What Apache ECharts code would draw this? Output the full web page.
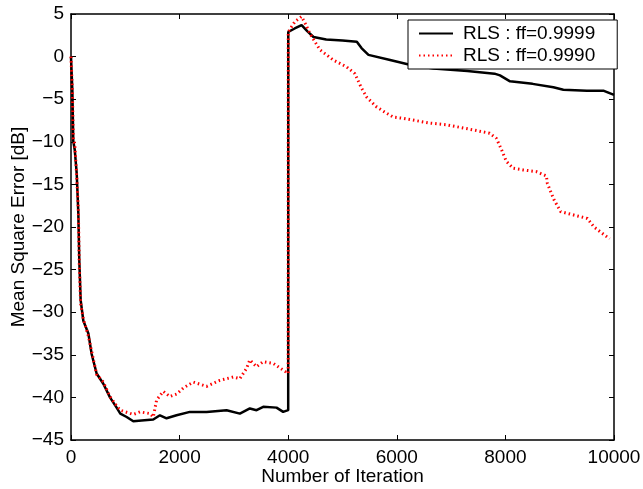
<!DOCTYPE html>
<html>
<head>
<meta charset="utf-8">
<script src="https://cdn.jsdelivr.net/npm/echarts@6/dist/echarts.min.js"></script>
<style>html,body{margin:0;padding:0;background:#fff}#c{width:643px;height:489px}</style>
</head>
<body>
<div id="c"></div>
<script>
var xTicks = [0, 2000, 4000, 6000, 8000, 10000];
var yTicks = [-45, -40, -35, -30, -25, -20, -15, -10, -5, 0, 5];
var seriesNames = ['RLS : ff=0.9999', 'RLS : ff=0.9990'];

var iterA = [0,13,25,42,70,105,135,153,178,227,320,380,472,595,718,840,908,1025,1147,1300,1515,1638,1760,1944,2190,2497,2865,3110,3294,3417,3540,3785,3907,4000,4001,4120,4247,4350,4466,4700,5000,5264,5350,5478,5877,6200,6673,7300,7800,7900,8085,8500,8883,9067,9500,9803,10000];
var mseA = [0,0,-4,-9.9,-11,-13.7,-18.4,-24,-28.6,-31,-32.5,-34.9,-37.2,-38.4,-40.0,-41.2,-41.9,-42.3,-42.8,-42.7,-42.6,-42.1,-42.45,-42.1,-41.7,-41.7,-41.5,-41.9,-41.3,-41.5,-41.1,-41.2,-41.7,-41.5,2.9,3.3,3.7,3.0,2.3,2.0,1.9,1.75,1.0,0.2,-0.4,-0.9,-1.4,-1.7,-2.0,-2.2,-2.9,-3.2,-3.6,-3.9,-4.0,-4.0,-4.5];

var iterB = [0,13,25,42,70,105,135,153,178,227,320,380,472,595,718,840,908,1000,1147,1270,1454,1515,1577,1700,1822,1950,2068,2252,2497,2742,2987,3110,3233,3294,3417,3540,3724,3907,4000,4001,4124,4247,4320,4400,4584,4830,5075,5228,5350,5450,5627,5800,5933,6117,6607,6915,7404,7711,7834,7920,8018,8140,8324,8569,8754,8773,8895,9018,9325,9509,9632,9919];
var mseB = [0,0,-4,-9.6,-10.3,-14,-18,-24.5,-29,-30.8,-32.8,-34.6,-37.3,-38.2,-39.9,-41.0,-41.5,-41.7,-42.0,-41.7,-41.9,-42.3,-40.3,-39.3,-39.9,-39.6,-38.9,-38.2,-38.7,-38.0,-37.6,-37.8,-36.6,-35.6,-36.4,-35.8,-36.0,-36.8,-37.2,2.9,4.1,4.7,3.8,2.7,0.8,-0.4,-1.2,-2.0,-3.7,-4.8,-5.9,-6.6,-7.1,-7.25,-7.8,-8.0,-8.6,-9.0,-9.6,-10.8,-12.3,-13.1,-13.3,-13.5,-14.0,-14.9,-16.8,-18.2,-18.7,-19.0,-20.0,-21.4];

function pairs(xs, ys){ return xs.map(function(x,i){ return [x, ys[i]]; }); }

var FONT = 'Liberation Sans';
var chart = echarts.init(document.getElementById('c'), null, {renderer:'canvas'});
var tickStyle = {show:true, inside:true, length:5, lineStyle:{color:'#000', width:1}};
var lineStyleAxis = {show:true, onZero:false, lineStyle:{color:'#000', width:1.5}};
chart.setOption({
  animation:false,
  backgroundColor:'#fff',
  grid:{left:71, right:29, top:14, bottom:49, containLabel:false, outerBoundsMode:'none'},
  legend:{
    data:[{name:seriesNames[0]},{name:seriesNames[1]}],
    orient:'vertical', left:408, top:20,
    padding:[4,22,4,10], itemGap:3, itemWidth:34, itemHeight:14,
    backgroundColor:'#fff', borderColor:'#000', borderWidth:1,
    itemStyle:{color:'rgba(0,0,0,0)', borderWidth:0, opacity:0},
    textStyle:{fontFamily:FONT, fontSize:19, color:'#000', padding:[0,0,0,5]}
  },
  xAxis:[{
    type:'value', min:xTicks[0], max:xTicks[xTicks.length-1], interval:2000,
    name:'Number of Iteration', nameLocation:'middle', nameGap:27, nameMoveOverlap:false,
    nameTextStyle:{fontFamily:FONT, fontSize:19, color:'#000'},
    axisLine:lineStyleAxis, axisTick:tickStyle,
    axisLabel:{fontFamily:FONT, fontSize:19, color:'#000', margin:8,
      formatter:function(v){ return String(v); }},
    splitLine:{show:false}
  },{
    type:'value', position:'top', min:xTicks[0], max:xTicks[xTicks.length-1], interval:2000,
    axisLine:lineStyleAxis, axisTick:tickStyle, axisLabel:{show:false}, splitLine:{show:false}
  }],
  yAxis:[{
    type:'value', min:yTicks[0], max:yTicks[yTicks.length-1], interval:5,
    name:'Mean Square Error [dB]', nameLocation:'middle', nameGap:43, nameRotate:90, nameMoveOverlap:false,
    nameTextStyle:{fontFamily:FONT, fontSize:19, color:'#000'},
    axisLine:lineStyleAxis, axisTick:tickStyle,
    axisLabel:{fontFamily:FONT, fontSize:19, color:'#000', margin:7,
      formatter:function(v){ return v < 0 ? '\u2212' + Math.abs(v) : String(v); }},
    splitLine:{show:false}
  },{
    type:'value', position:'right', min:yTicks[0], max:yTicks[yTicks.length-1], interval:5,
    axisLine:lineStyleAxis, axisTick:tickStyle, axisLabel:{show:false}, splitLine:{show:false}
  }],
  series:[{
    name:seriesNames[0], type:'line', data:pairs(iterA, mseA),
    showSymbol:false, symbol:'none', z:3,
    lineStyle:{color:'#000', width:2.5}, itemStyle:{color:'#000'}
  },{
    name:seriesNames[1], type:'line', data:pairs(iterB, mseB),
    showSymbol:false, symbol:'none', z:4,
    lineStyle:{color:'#ff0000', width:3, type:[1.5,3]}, itemStyle:{color:'#ff0000'}
  }]
});
</script>
</body>
</html>
